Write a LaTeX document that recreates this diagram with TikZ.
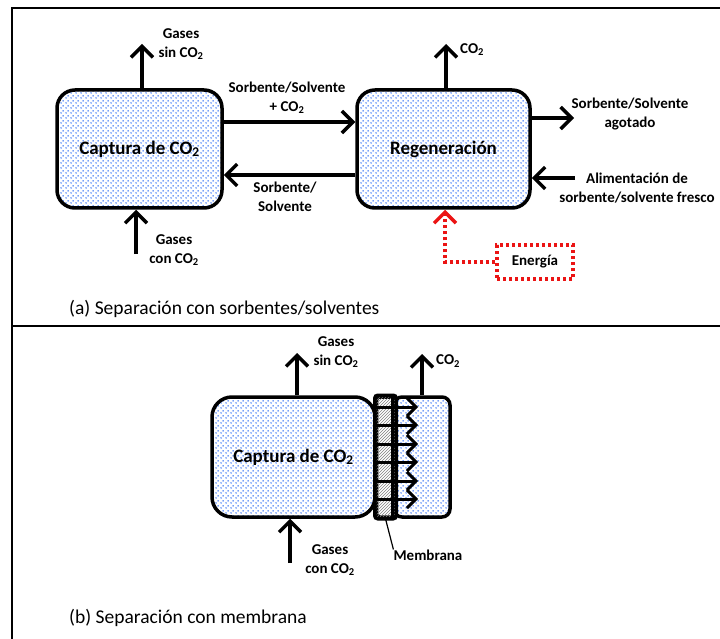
\documentclass[tikz,border=0pt]{standalone}
\usepackage{fontspec}
\setmainfont{Carlito}
\usetikzlibrary{arrows.meta,patterns,patterns.meta}
\definecolor{dotblue}{RGB}{70,125,245}
\definecolor{enred}{RGB}{235,20,20}
\tikzdeclarepattern{name=bdots,type=uncolored,
  bounding box={(0pt,0pt) and (5pt,5pt)},tile size={(5pt,5pt)},
  code={\fill (1.25pt,1.25pt) circle (1pt); \fill (3.75pt,3.75pt) circle (1pt);}}
\begin{document}
\begin{tikzpicture}[x=1pt,y=-1pt,
  box/.style={draw,line width=3.5pt,rounded corners=18pt,preaction={fill=white},
    pattern=bdots,pattern color=dotblue,inner sep=0pt,
    font=\bfseries\fontsize{19}{22}\selectfont},
  lbl/.style={align=center,inner sep=0pt,font=\bfseries\fontsize{15}{18.5}\selectfont},
  captxt/.style={anchor=base west,inner sep=0pt,font=\fontsize{19.5}{22}\selectfont},
  arr/.style={line width=3.5pt,-{Straight Barb[length=11pt,width=22pt]}},
  marr/.style={line width=3pt,-{Straight Barb[length=9pt,width=18pt]}},
  earr/.style={enred,line width=3.5pt,dash pattern=on 3pt off 3pt,
    -{Straight Barb[length=11pt,width=22pt]}},
  ebox/.style={draw=enred,line width=3.5pt,dash pattern=on 3pt off 3pt,inner sep=0pt,
    minimum width=76pt,minimum height=34pt,font=\bfseries\fontsize{15}{18}\selectfont}]
\useasboundingbox (0,0) rectangle (720,639);
% frame
\draw[line width=2pt] (720,8) -- (12,8) -- (12,639);
\draw[line width=2.5pt] (12,326) -- (720,326);

% ---------- panel (a)
\node[box,minimum width=165pt,minimum height=118pt] (A) at (139.5,149) {Captura de CO\textsubscript{2}};
\node[box,minimum width=173pt,minimum height=118pt] (B) at (443.5,149) {Regeneración};

\coordinate (a1) at (142,44);
\draw[arr] (a1 |- A.north) -- (a1);
\node[lbl] (la1) at (181,44) {Gases\\sin CO\textsubscript{2}};

\coordinate (b1) at (446,44);
\draw[arr] (b1 |- B.north) -- (b1);
\node[lbl,anchor=west] (lb1) at (460,50) {CO\textsubscript{2}};

\coordinate (ab) at (0,122);
\draw[arr] (ab -| A.east) -- (ab -| B.west);
\node[lbl] (lab) at (287,98) {Sorbente/Solvente\\+ CO\textsubscript{2}};

\coordinate (ba) at (0,175);
\draw[arr] (ba -| B.west) -- (ba -| A.east);
\node[lbl] (lba) at (285,197) {Sorbente/\\Solvente};

\coordinate (a2) at (136,254);
\draw[arr] (a2) -- (a2 |- A.south);
\node[lbl] (la2) at (174,250) {Gases\\con CO\textsubscript{2}};

\coordinate (b2) at (574,118);
\draw[arr] (b2 -| B.east) -- (b2);
\node[lbl] (lb2) at (630,114) {Sorbente/Solvente\\agotado};

\coordinate (b3) at (575,178);
\draw[arr] (b3) -- (b3 -| B.east);
\node[lbl] (lb3) at (637,188) {Alimentación de\\sorbente/solvente fresco};

\node[ebox] (E) at (535,262) {Energía};
\coordinate (ec) at (445,262);
\draw[earr] (E.west) -- (ec) -- (ec |- B.south);

\node[captxt] (ca) at (69,314) {(a) Separación con sorbentes/solventes};

% ---------- panel (b)
\node[box,rounded corners=20pt,minimum width=163pt,minimum height=120pt] (C) at (293.5,457) {Captura de CO\textsubscript{2}};
\node[draw,line width=3.5pt,rounded corners=8pt,preaction={fill=white},
  pattern=bdots,pattern color=dotblue,minimum width=56pt,minimum height=120pt,inner sep=0pt] (R) at (422,457) {};
\node[draw,line width=3.5pt,rounded corners=3pt,fill=white,minimum width=18pt,minimum height=120pt,inner sep=0pt] (M) at (385.5,457) {};
\fill[pattern=north east lines,pattern color=gray] ([xshift=1.5pt,yshift=-1.5pt]M.north west) rectangle ([xshift=-1.5pt,yshift=1.5pt]M.south east);
\draw[line width=3.5pt,rounded corners=3pt] (M.north west) rectangle (M.south east);
\draw[line width=3.5pt] (R.north west) -- (R.south west);
\foreach \y in {407,425,444,462,481,499} {
  \draw[marr] (M.west |- 0,\y) -- (418,\y);
}

\coordinate (c1) at (297,353);
\draw[arr] (c1 |- C.north) -- (c1);
\node[lbl] (lc1) at (336,352) {Gases\\sin CO\textsubscript{2}};

\coordinate (r1) at (422,354);
\draw[arr] (r1 |- R.north) -- (r1);
\node[lbl,anchor=west] (lr1) at (436,361) {CO\textsubscript{2}};

\coordinate (c2) at (290,563);
\draw[arr] (c2) -- (c2 |- C.south);
\node[lbl] (lc2) at (330,560) {Gases\\con CO\textsubscript{2}};

\node[lbl] (lm) at (428,555) {Membrana};
\draw[line width=1.2pt] (M.south) -- (lm.north west);

\node[captxt] (cb) at (69,623) {(b) Separación con membrana};
\end{tikzpicture}
\end{document}
